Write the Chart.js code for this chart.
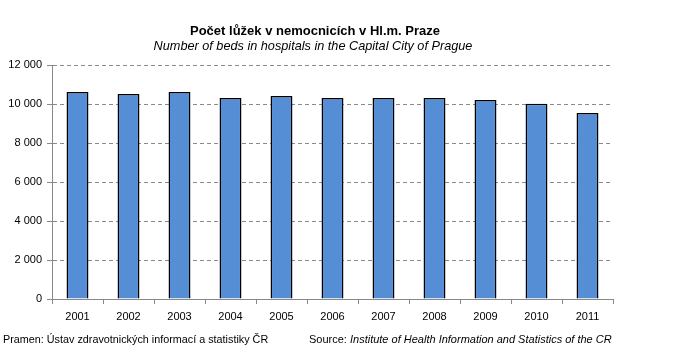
<!DOCTYPE html>
<html>
<head>
<meta charset="utf-8">
<script src="https://cdn.jsdelivr.net/npm/chart.js@4.4.1/dist/chart.umd.min.js"></script>
<style>
  html, body { margin: 0; padding: 0; background: #fff; }
  #wrap { width: 673px; height: 363px; position: relative; }
</style>
</head>
<body>
<div id="wrap"><canvas id="graf"></canvas></div>
<script>
const roky = ["2001", "2002", "2003", "2004", "2005", "2006", "2007", "2008", "2009", "2010", "2011"];
const luzka = [10620, 10510, 10620, 10310, 10410, 10310, 10310, 10310, 10200, 10010, 9540];
const yTicks = [0, 2000, 4000, 6000, 8000, 10000, 12000];

const titulek = "Počet lůžek v nemocnicích v Hl.m. Praze";
const podtitulek = "Number of beds in hospitals in the Capital City of Prague";
const pramen = "Pramen: Ústav zdravotnických informací a statistiky ČR";
const zdrojLabel = "Source: ";
const zdroj = "Institute of Health Information and Statistics of the CR";

const FONT = "'Liberation Sans', Arial, sans-serif";

// popisky mimo graf (titulky a zdroje)
const textyPlugin = {
  id: "textyPlugin",
  afterDraw(chart) {
    const { ctx } = chart;
    ctx.save();
    ctx.fillStyle = "#000";
    ctx.textBaseline = "middle";
    ctx.textAlign = "center";
    ctx.font = "bold 13px " + FONT;
    ctx.fillText(titulek, 315, 31);
    ctx.font = "italic 12.7px " + FONT;
    ctx.fillText(podtitulek, 313, 46);

    ctx.textAlign = "left";
    ctx.font = "10.8px " + FONT;
    ctx.fillText(pramen, 3, 340);
    ctx.font = "11px " + FONT;
    ctx.fillText(zdrojLabel, 309, 340);
    const w = ctx.measureText(zdrojLabel).width;
    ctx.font = "italic 11px " + FONT;
    ctx.fillText(zdroj, 309 + w, 340);
    ctx.restore();
  }
};

new Chart(document.getElementById("graf"), {
  type: "bar",
  data: {
    labels: roky,
    datasets: [{
      data: luzka,
      backgroundColor: "#558ed5",
      borderColor: "#000",
      borderWidth: 1.5,
      borderSkipped: "start",
      barPercentage: 0.43,
      categoryPercentage: 1
    }]
  },
  options: {
    responsive: true,
    maintainAspectRatio: false,
    animation: false,
    layout: { padding: { top: 65, right: 60, bottom: 38, left: 0 } },
    plugins: {
      legend: { display: false },
      tooltip: { enabled: false }
    },
    scales: {
      x: {
        afterFit(scale) { scale.height = 26; },
        border: { display: true, color: "#888", width: 1, z: 1 },
        grid: {
          offset: true,
          drawOnChartArea: false,
          drawTicks: true,
          tickLength: 5,
          color: "#888"
        },
        ticks: {
          color: "#000",
          padding: 6,
          maxRotation: 0,
          font: { family: FONT, size: 11 }
        }
      },
      y: {
        min: 0,
        max: 12000,
        afterFit(scale) { scale.width = 52; },
        afterBuildTicks(scale) { scale.ticks = yTicks.map((v) => ({ value: v })); },
        border: { display: true, color: "#888", width: 1, dash: [4, 3] },
        grid: {
          drawTicks: true,
          tickLength: 5,
          color: (c) => (c.tick && c.tick.value === 0 ? "rgba(0,0,0,0)" : "#8a8a8a"),
          tickColor: "#888",
          tickBorderDash: []
        },
        ticks: {
          color: "#000",
          padding: 5,
          font: { family: FONT, size: 11 },
          callback: (v) => String(v).replace(/\B(?=(\d{3})+(?!\d))/g, " ")
        }
      }
    }
  },
  plugins: [textyPlugin]
});
</script>
</body>
</html>
